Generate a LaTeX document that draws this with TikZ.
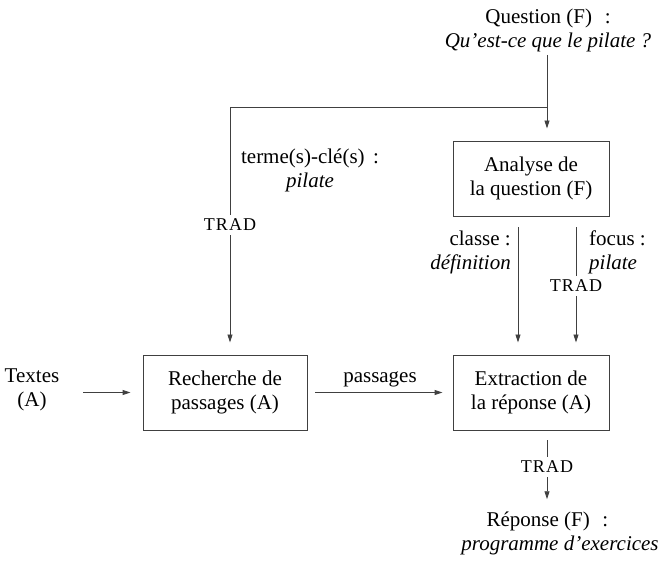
\documentclass[tikz,border=0pt]{standalone}
\usepackage{fontspec}
\setmainfont{Liberation Serif}
\newfontfamily\timesfont{Liberation Serif}
\newfontfamily\tradfont[LetterSpace=6]{Liberation Serif}
\usetikzlibrary{arrows.meta}
\begin{document}
\begin{tikzpicture}[x=1pt,y=-1pt,
  every node/.style={font=\timesfont\fontsize{21}{24}\selectfont, inner sep=0pt},
  box/.style={draw=black!75, line width=0.9pt, minimum width=156pt, minimum height=75pt, align=center},
  lbl/.style={align=center},
  trad/.style={font=\tradfont\fontsize{18}{19}\selectfont, inner sep=4pt},
  conn/.style={draw=black!75, line width=0.9pt},
  arr/.style={conn, -{Triangle[length=8pt,width=5pt]}}]
\useasboundingbox (0,0) rectangle (662,564);

\node[lbl] (q) at (548,30) {Question (F)\hspace{.6em}:\\\textit{Qu’est-ce que le pilate ?}};
\node[box] (ana) at (531,178.5) {Analyse de\\la question (F)};
\node[box, minimum width=164pt] (rech) at (225,392.5) {Recherche de\\passages (A)};
\node[box] (ext) at (531,392.5) {Extraction de\\la réponse (A)};
\node[lbl] (txt) at (32,390) {Textes\\(A)};
\node[lbl] (key) at (310,170) {terme(s)-clé(s)\hspace{.4em}:\\\textit{pilate}};
\node[align=right, anchor=east] (cls) at (511,252) {classe :\\\textit{définition}};
\node[align=left, anchor=west] (foc) at (589,252) {focus :\\\textit{pilate}};
\node[trad] (t1) at (230,225) {TRAD};
\node[trad] (t2) at (576,286) {TRAD};
\node[trad] (t3) at (547,467) {TRAD};
\node[lbl] (rep) at (560,533) {Réponse (F)\hspace{.6em}:\hspace{1.2em}\mbox{}\\\textit{programme d’exercices}};

\coordinate (qb) at (547,55);
\coordinate (br) at (547,107);
\coordinate (bl) at (230,107);
\coordinate (cx) at (518,0);
\coordinate (fx) at (576,0);

\draw[arr, shorten >=12pt] (qb) -- (ana.north -| qb);
\draw[conn] (br) -- (bl) -- (t1.north);
\draw[arr, shorten >=12pt] (t1.south) -- (rech.north -| t1);
\draw[arr, shorten <=11pt, shorten >=12pt] (ana.south -| cx) -- (ext.north -| cx);
\draw[conn, shorten <=11pt] (ana.south -| fx) -- (t2.north);
\draw[arr, shorten >=12pt] (t2.south) -- (ext.north -| fx);
\draw[arr, shorten <=24pt, shorten >=12pt] (txt.east |- rech) -- (rech.west);
\draw[arr, shorten <=8pt, shorten >=10pt] (rech.east) -- node[midway, above=5pt] (pas) {passages} (ext.west);
\draw[conn, shorten <=10pt] (ext.south -| t3) -- (t3.north);
\draw[arr, shorten >=12pt] (t3.south) -- (rep.north -| t3);
\end{tikzpicture}
\end{document}
